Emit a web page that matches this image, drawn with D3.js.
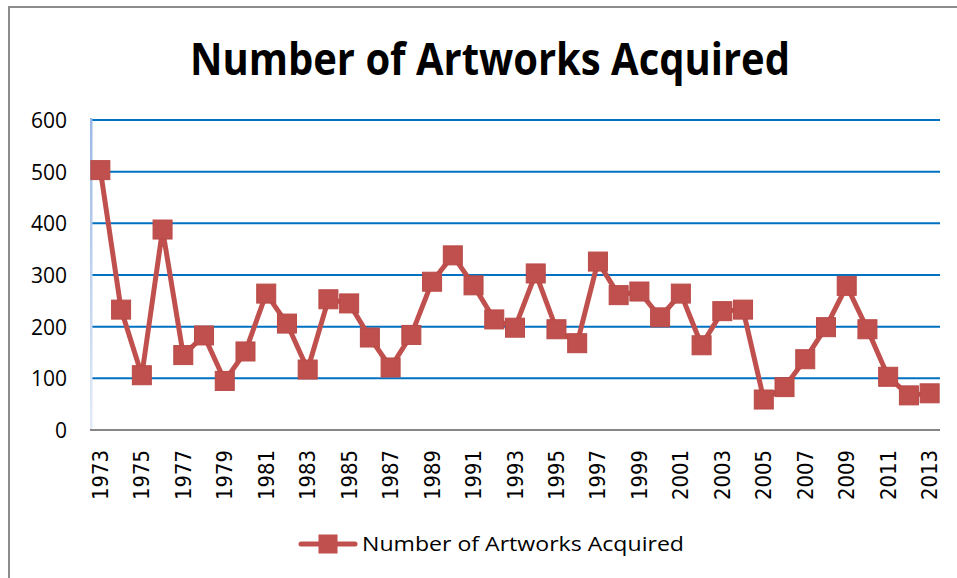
<!DOCTYPE html>
<html><head><meta charset="utf-8">
<script src="https://cdn.jsdelivr.net/npm/d3@7"></script>
<style>body{margin:0;background:#fff}svg{display:block}</style>
</head><body>
<svg id="c" width="957" height="578"></svg>
<script>
const years = d3.range(1973, 2014).map(String);
const values = [503,233,106,388,145,183,95,152,264,206,117,253,245,179,121,184,287,338,280,214,198,303,195,168,326,261,268,218,264,164,230,233,59,83,137,199,279,195,103,67,71];
const yTicks = [0,100,200,300,400,500,600];
const seriesName = "Number of Artworks Acquired";
const title = "Number of Artworks Acquired";

const svg = d3.select("#c");
const W = 957, H = 578;
const L = 90, R = 940, T = 120, B = 430;
const red = "#C0504D";

// chart frame: only top and left edges visible
svg.append("path").attr("d",`M9,${H} L9,7 L${W},7`).attr("fill","none")
  .attr("stroke","#8c8c8c").attr("stroke-width",2);

const x = d3.scaleBand().domain(years).range([L, R]);
const y = d3.scaleLinear().domain([0,600]).range([B, T]);

// gridlines
svg.append("g").selectAll("line").data(yTicks.filter(d=>d>0)).join("line")
  .attr("x1",L).attr("x2",R).attr("y1",d=>y(d)).attr("y2",d=>y(d))
  .attr("stroke","#0070C0").attr("stroke-width",2);

// y axis line (light blue gradient)
const defs = svg.append("defs");
const lg = defs.append("linearGradient").attr("id","yg").attr("x1",0).attr("x2",0).attr("y1",0).attr("y2",1);
lg.append("stop").attr("offset","0%").attr("stop-color","#9ab8e6");
lg.append("stop").attr("offset","100%").attr("stop-color","#e3ebf8");
svg.append("rect").attr("x",L).attr("y",T-2).attr("width",2.5).attr("height",B-T+2).attr("fill","url(#yg)");

// x axis line
svg.append("line").attr("x1",L).attr("x2",R).attr("y1",B).attr("y2",B)
  .attr("stroke","#868686").attr("stroke-width",2);

// y axis labels
const yAxis = d3.axisLeft(y).tickValues(yTicks).tickSize(0).tickPadding(0);
const gy = svg.append("g").attr("transform",`translate(${L-23},0)`).call(yAxis);
gy.select(".domain").remove();
gy.selectAll("text").attr("font-family","'Open Sans', 'Liberation Sans', Arial, sans-serif")
  .attr("font-size",21).attr("fill","#000").attr("dy","0.35em").attr("text-anchor","end");

// x axis labels
const xAxis = d3.axisBottom(x).tickValues(years.filter((d,i)=>i%2===0)).tickSize(0).tickPadding(0);
const gx = svg.append("g").attr("transform",`translate(0,${B})`).call(xAxis);
gx.select(".domain").remove();
gx.selectAll("text").attr("font-family","'DejaVu Sans', Verdana, sans-serif").attr("font-size",21)
  .attr("fill","#000").attr("text-anchor","end")
  .attr("transform","rotate(-90)").attr("x",-20).attr("y",0).attr("dy","0.36em")
  .attr("textLength",50).attr("lengthAdjust","spacingAndGlyphs");

// line
const line = d3.line().x((d,i)=>x(years[i])+x.bandwidth()/2).y(d=>y(d));
svg.append("path").datum(values).attr("d",line).attr("fill","none")
  .attr("stroke",red).attr("stroke-width",5).attr("stroke-linejoin","round");

const ms = 19;
svg.append("g").selectAll("rect").data(values).join("rect")
  .attr("x",(d,i)=>x(years[i])+x.bandwidth()/2-ms/2).attr("y",d=>y(d)-ms/2)
  .attr("width",ms).attr("height",ms).attr("fill",red).attr("stroke","#b94a47").attr("stroke-width",1);

// title
svg.append("text").attr("x",490).attr("y",75).attr("text-anchor","middle")
  .attr("font-family","'Open Sans', 'Liberation Sans', sans-serif").attr("font-weight","bold")
  .attr("font-size",44).attr("textLength",600).attr("lengthAdjust","spacingAndGlyphs").text(title);

// legend
const lgY = 544;
svg.append("line").attr("x1",301).attr("x2",355).attr("y1",lgY).attr("y2",lgY)
  .attr("stroke",red).attr("stroke-width",5).attr("stroke-linecap","round");
svg.append("rect").attr("x",328-9.5).attr("y",lgY-9.5).attr("width",19).attr("height",19).attr("fill",red);
svg.append("text").attr("x",362).attr("y",lgY).attr("dy","0.35em")
  .attr("font-family","'Open Sans', 'Liberation Sans', sans-serif").attr("font-size",20.5)
  .attr("textLength",322).attr("lengthAdjust","spacingAndGlyphs").text(seriesName);
</script>
</body></html>
